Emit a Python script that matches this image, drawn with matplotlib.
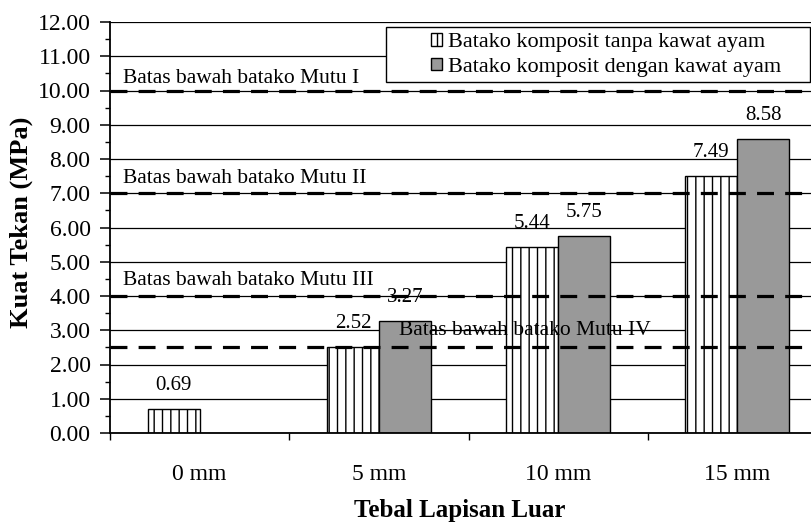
import numpy as np
import matplotlib
matplotlib.use('Agg')
import matplotlib.pyplot as plt
from matplotlib.patches import Rectangle
from matplotlib.ticker import MultipleLocator, FormatStrFormatter, FixedLocator

plt.rcParams['font.family'] = 'Liberation Serif'
plt.rcParams['hatch.linewidth'] = 1.0

categories = ['0 mm', '5 mm', '10 mm', '15 mm']
tanpa_kawat = [0.69, 2.52, 5.44, 7.49]
dengan_kawat = [None, 3.27, 5.75, 8.58]
series_names = ['Batako komposit tanpa kawat ayam', 'Batako komposit dengan kawat ayam']

limit_values = [10.0, 7.0, 4.0, 2.5]
limit_labels = ['Batas bawah batako Mutu I', 'Batas bawah batako Mutu II',
                'Batas bawah batako Mutu III', 'Batas bawah batako Mutu IV']
# label anchor: (x in data units, baseline y in data units)
limit_label_pos = [(-0.43, 10.22), (-0.43, 7.29), (-0.43, 4.32), (1.11, 2.85)]

fig = plt.figure(figsize=(8.11, 5.25), dpi=100)
ax = fig.add_axes([110 / 811, 92 / 525, 717 / 811, 411 / 525])

x = np.arange(len(categories))
w = 0.29

ax.bar(x - w / 2, tanpa_kawat, w, color='white', edgecolor='black',
       hatch='||', linewidth=1.0, zorder=2, label=series_names[0])
dk_x = [xi + w / 2 for xi, v in zip(x, dengan_kawat) if v is not None]
dk_v = [v for v in dengan_kawat if v is not None]
ax.bar(dk_x, dk_v, w, color='#999999', edgecolor='black',
       linewidth=1.0, zorder=2, label=series_names[1])

# value labels above each bar
for xi, v in zip(x - w / 2, tanpa_kawat):
    ax.annotate(f'{v:.2f}', (xi, v), xytext=(0, 17), textcoords='offset points',
                ha='center', va='center', fontsize=15, zorder=5)
for xi, v in zip(dk_x, dk_v):
    ax.annotate(f'{v:.2f}', (xi, v), xytext=(0, 17), textcoords='offset points',
                ha='center', va='center', fontsize=15, zorder=5)

# lower-limit lines for each quality class
for val, lab, (lx, ly) in zip(limit_values, limit_labels, limit_label_pos):
    ax.axhline(val, color='black', linewidth=2.3, linestyle=(0, (5.3, 3.5)), zorder=4)
    ax.text(lx, ly, lab, fontsize=15.5, ha='left', va='baseline', zorder=5)

ax.set_xlim(-0.5, 3.5)
ax.set_ylim(0, 12)

ax.yaxis.set_major_locator(MultipleLocator(1))
ax.yaxis.set_minor_locator(MultipleLocator(0.5))
ax.yaxis.set_major_formatter(FormatStrFormatter('%.2f'))
ax.tick_params(axis='y', which='major', length=7, width=1.1, labelsize=17, pad=7)
ax.tick_params(axis='y', which='minor', length=3.6, width=1.0)

ax.set_xticks(x)
ax.set_xticklabels(categories)
ax.xaxis.set_minor_locator(FixedLocator([-0.5, 0.5, 1.5, 2.5, 3.5]))
ax.tick_params(axis='x', which='major', length=0, labelsize=17, pad=22)
ax.tick_params(axis='x', which='minor', length=5, width=1.0)

ax.grid(axis='y', which='major', color='black', linewidth=0.9, zorder=0)
ax.set_axisbelow(True)
for s in ['top', 'right']:
    ax.spines[s].set_visible(False)
ax.spines['left'].set_linewidth(1.3)
ax.spines['bottom'].set_linewidth(1.3)

fig.text(21 / 811, 1 - 222 / 525, 'Kuat Tekan (MPa)', rotation=90,
         ha='center', va='center', fontsize=19, fontweight='bold')
fig.text(460 / 811, 1 - 510 / 525, 'Tebal Lapisan Luar',
         ha='center', va='center', fontsize=18, fontweight='bold')

# legend with its own frame
frame = Rectangle((386 / 811, 1 - 82 / 525), (810 - 386) / 811, 55 / 525,
                  transform=fig.transFigure, facecolor='white', edgecolor='black',
                  linewidth=1.0, zorder=6)
fig.add_artist(frame)
leg = fig.legend(loc='center', bbox_to_anchor=(606 / 811, 1 - 55 / 525),
                 frameon=False, fontsize=16, handlelength=0.5, handleheight=0.5,
                 handletextpad=0.25, labelspacing=0.25, borderpad=0)
leg.set_zorder(7)

fig.savefig('out.png', dpi=100)
